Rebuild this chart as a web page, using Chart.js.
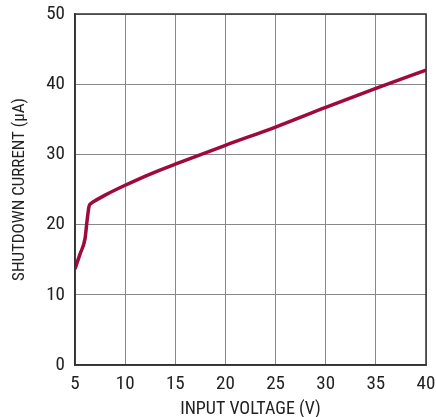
<!DOCTYPE html>
<html><head><meta charset="utf-8">
<script src="https://cdn.jsdelivr.net/npm/chart.js@4/dist/chart.umd.min.js"></script>
<style>html,body{margin:0;padding:0;background:#fff;}canvas{display:block;}</style>
</head><body>
<canvas id="c" width="436" height="417"></canvas>
<script>
const voltage = [5, 5.5, 6, 6.2, 6.4, 6.6, 7, 8, 10, 12.5, 15, 20, 25, 30, 35, 40];
const current = [13.7, 15.8, 18, 20.5, 22.6, 23, 23.4, 24.2, 25.6, 27.2, 28.6, 31.3, 33.9, 36.7, 39.4, 42];
const xTitle = 'INPUT VOLTAGE (V)';
const yTitle = 'SHUTDOWN CURRENT (µA)';
const FONT = "'Liberation Sans Narrow', 'Roboto Condensed', 'Liberation Sans', Arial, sans-serif";

const pts = voltage.map((v, i) => ({x: v, y: current[i]}));
const noPad = s => { s.paddingTop = 0; s.paddingBottom = 0; s.paddingLeft = 0; s.paddingRight = 0; };
new Chart(document.getElementById('c'), {
  type: 'line',
  data: { datasets: [{ data: pts, borderColor: '#9e0a3c', borderWidth: 3.5, pointRadius: 0, cubicInterpolationMode: 'monotone', fill: false }] },
  options: {
    responsive: false, animation: false,
    layout: { autoPadding: false, padding: { top: 14, right: 10, left: 0, bottom: 0 } },
    plugins: { legend: { display: false }, tooltip: { enabled: false } },
    scales: {
      x: { type: 'linear', min: 5, max: 40,
        ticks: { stepSize: 5, color: '#222', font: { family: FONT, size: 19 }, padding: 8, maxRotation: 0 },
        grid: { color: '#888', lineWidth: 1, drawTicks: false },
        border: { color: '#333', width: 1.5 },
        title: { display: true, text: xTitle, color: '#222', font: { family: FONT, size: 18, lineHeight: 0.85 }, padding: { top: 0, bottom: 0 } },
        afterFit: s => { s.height = 52; noPad(s); } },
      y: { min: 0, max: 50,
        ticks: { stepSize: 10, color: '#222', font: { family: FONT, size: 19 }, padding: 10 },
        grid: { color: '#888', lineWidth: 1, drawTicks: false },
        border: { color: '#333', width: 1.5 },
        title: { display: true, text: yTitle, color: '#222', font: { family: FONT, size: 17 }, padding: { top: 10, bottom: 0 } },
        afterFit: s => { s.width = 75; noPad(s); } }
    }
  },
  plugins: [{ id: 'frame', afterDraw(chart) { const a = chart.chartArea, c = chart.ctx; c.save(); c.strokeStyle = '#333'; c.lineWidth = 1.5; c.strokeRect(a.left, a.top, a.right - a.left, a.bottom - a.top); c.restore(); } }]
});
</script>
</body></html>
